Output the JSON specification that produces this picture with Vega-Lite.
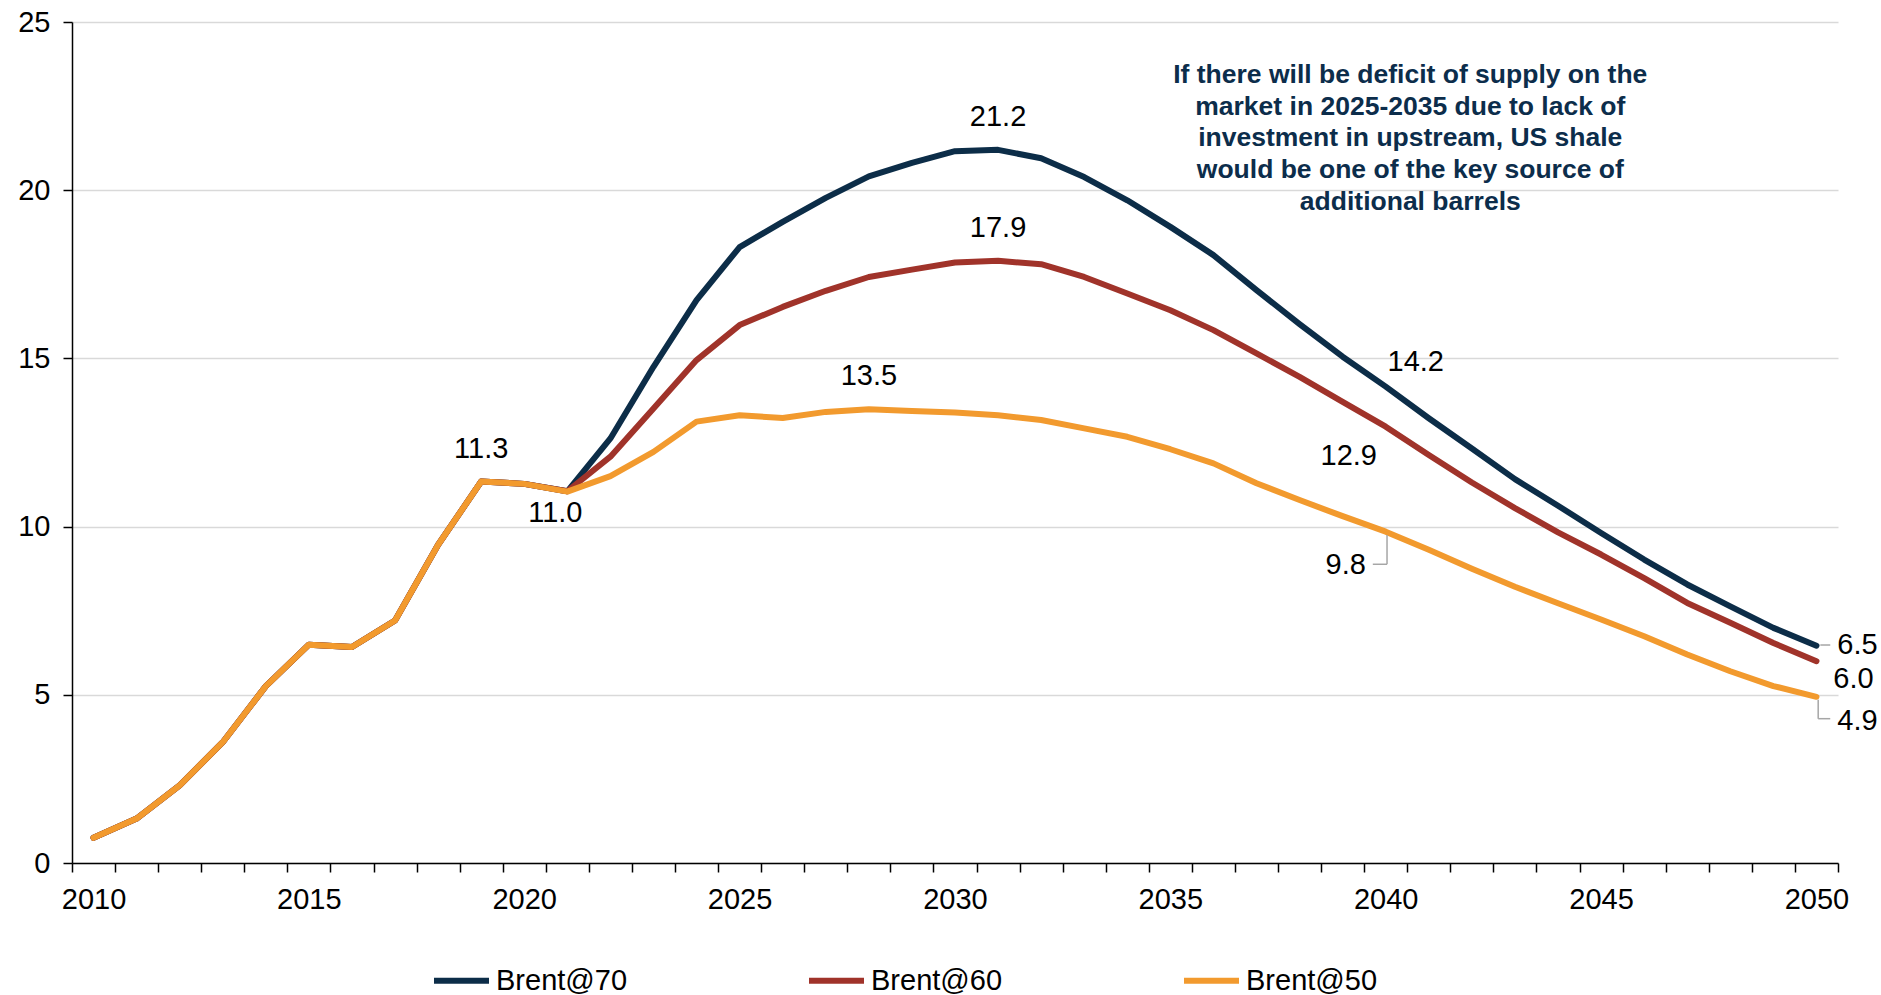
{
  "$schema": "https://vega.github.io/schema/vega-lite/v6.json",
  "width": 1766,
  "height": 841,
  "autosize": {"type": "none"},
  "padding": {"left": 72, "top": 22, "right": 43, "bottom": 132},
  "background": "white",
  "config": {
    "font": "Liberation Sans",
    "view": {"stroke": null},
    "axis": {
      "labelFont": "Liberation Sans",
      "labelFontSize": 29,
      "labelColor": "#000000",
      "domainColor": "#000000",
      "tickColor": "#000000",
      "domainWidth": 1.5,
      "tickWidth": 1.5,
      "title": null
    },
    "legend": {"labelFont": "Liberation Sans"}
  },
  "datasets": {
    "series": [
      {"year": 2010, "Brent@70": 0.75, "Brent@60": 0.75, "Brent@50": 0.75},
      {"year": 2011, "Brent@70": 1.32, "Brent@60": 1.32, "Brent@50": 1.32},
      {"year": 2012, "Brent@70": 2.31, "Brent@60": 2.31, "Brent@50": 2.31},
      {"year": 2013, "Brent@70": 3.59, "Brent@60": 3.59, "Brent@50": 3.59},
      {"year": 2014, "Brent@70": 5.26, "Brent@60": 5.26, "Brent@50": 5.26},
      {"year": 2015, "Brent@70": 6.49, "Brent@60": 6.49, "Brent@50": 6.49},
      {"year": 2016, "Brent@70": 6.42, "Brent@60": 6.42, "Brent@50": 6.42},
      {"year": 2017, "Brent@70": 7.21, "Brent@60": 7.21, "Brent@50": 7.21},
      {"year": 2018, "Brent@70": 9.46, "Brent@60": 9.46, "Brent@50": 9.46},
      {"year": 2019, "Brent@70": 11.34, "Brent@60": 11.34, "Brent@50": 11.34},
      {"year": 2020, "Brent@70": 11.27, "Brent@60": 11.27, "Brent@50": 11.27},
      {"year": 2021, "Brent@70": 11.05, "Brent@60": 11.05, "Brent@50": 11.04},
      {"year": 2022, "Brent@70": 12.62, "Brent@60": 12.08, "Brent@50": 11.5},
      {"year": 2023, "Brent@70": 14.75, "Brent@60": 13.51, "Brent@50": 12.22},
      {"year": 2024, "Brent@70": 16.73, "Brent@60": 14.95, "Brent@50": 13.12},
      {"year": 2025, "Brent@70": 18.31, "Brent@60": 15.99, "Brent@50": 13.31},
      {"year": 2026, "Brent@70": 19.06, "Brent@60": 16.53, "Brent@50": 13.23},
      {"year": 2027, "Brent@70": 19.77, "Brent@60": 17.01, "Brent@50": 13.41},
      {"year": 2028, "Brent@70": 20.41, "Brent@60": 17.42, "Brent@50": 13.49},
      {"year": 2029, "Brent@70": 20.81, "Brent@60": 17.64, "Brent@50": 13.44},
      {"year": 2030, "Brent@70": 21.16, "Brent@60": 17.85, "Brent@50": 13.39},
      {"year": 2031, "Brent@70": 21.2, "Brent@60": 17.9, "Brent@50": 13.31},
      {"year": 2032, "Brent@70": 20.95, "Brent@60": 17.8, "Brent@50": 13.17},
      {"year": 2033, "Brent@70": 20.39, "Brent@60": 17.42, "Brent@50": 12.92},
      {"year": 2034, "Brent@70": 19.7, "Brent@60": 16.93, "Brent@50": 12.67},
      {"year": 2035, "Brent@70": 18.91, "Brent@60": 16.43, "Brent@50": 12.3},
      {"year": 2036, "Brent@70": 18.07, "Brent@60": 15.84, "Brent@50": 11.88},
      {"year": 2037, "Brent@70": 17.03, "Brent@60": 15.15, "Brent@50": 11.29},
      {"year": 2038, "Brent@70": 16.02, "Brent@60": 14.45, "Brent@50": 10.79},
      {"year": 2039, "Brent@70": 15.05, "Brent@60": 13.71, "Brent@50": 10.31},
      {"year": 2040, "Brent@70": 14.16, "Brent@60": 12.97, "Brent@50": 9.85},
      {"year": 2041, "Brent@70": 13.22, "Brent@60": 12.13, "Brent@50": 9.31},
      {"year": 2042, "Brent@70": 12.32, "Brent@60": 11.31, "Brent@50": 8.75},
      {"year": 2043, "Brent@70": 11.41, "Brent@60": 10.55, "Brent@50": 8.21},
      {"year": 2044, "Brent@70": 10.62, "Brent@60": 9.83, "Brent@50": 7.72},
      {"year": 2045, "Brent@70": 9.81, "Brent@60": 9.17, "Brent@50": 7.24},
      {"year": 2046, "Brent@70": 9.02, "Brent@60": 8.47, "Brent@50": 6.74},
      {"year": 2047, "Brent@70": 8.28, "Brent@60": 7.73, "Brent@50": 6.2},
      {"year": 2048, "Brent@70": 7.63, "Brent@60": 7.14, "Brent@50": 5.7},
      {"year": 2049, "Brent@70": 6.99, "Brent@60": 6.54, "Brent@50": 5.26},
      {"year": 2050, "Brent@70": 6.46, "Brent@60": 6.0, "Brent@50": 4.94}
    ],
    "labels": [
      {"year": 2019, "value": 11.34, "label": "11.3"},
      {"year": 2021, "value": 11.04, "label": "11.0"},
      {"year": 2031, "value": 21.2, "label": "21.2"},
      {"year": 2031, "value": 17.9, "label": "17.9"},
      {"year": 2028, "value": 13.49, "label": "13.5"},
      {"year": 2040, "value": 14.16, "label": "14.2"},
      {"year": 2040, "value": 12.97, "label": "12.9"},
      {"year": 2040, "value": 9.85, "label": "9.8"},
      {"year": 2050, "value": 6.46, "label": "6.5"},
      {"year": 2050, "value": 6.0, "label": "6.0"},
      {"year": 2050, "value": 4.94, "label": "4.9"}
    ],
    "leaders": [
      {"year": 2040.03, "value": 9.75, "year2": 2040.03, "value2": 8.88},
      {"year": 2040.03, "value": 8.88, "year2": 2039.7, "value2": 8.88},
      {"year": 2050.09, "value": 6.48, "year2": 2050.32, "value2": 6.48},
      {"year": 2050.04, "value": 4.85, "year2": 2050.04, "value2": 4.29},
      {"year": 2050.04, "value": 4.29, "year2": 2050.32, "value2": 4.29}
    ],
    "notes": [
      {"year": 2040.57, "value": 23.43, "note": "If there will be deficit of supply on the\nmarket in 2025-2035 due to lack of\ninvestment in upstream, US shale\nwould be one of the key source of\nadditional barrels"}
    ]
  },
  "encoding": {
    "x": {
      "field": "year",
      "type": "quantitative",
      "scale": {"domain": [2009.5, 2050.5], "nice": false, "zero": false},
      "axis": {
        "values": [2009.5, 2010.5, 2011.5, 2012.5, 2013.5, 2014.5, 2015.5, 2016.5, 2017.5, 2018.5, 2019.5, 2020.5, 2021.5, 2022.5, 2023.5, 2024.5, 2025.5, 2026.5, 2027.5, 2028.5, 2029.5, 2030.5, 2031.5, 2032.5, 2033.5, 2034.5, 2035.5, 2036.5, 2037.5, 2038.5, 2039.5, 2040.5, 2041.5, 2042.5, 2043.5, 2044.5, 2045.5, 2046.5, 2047.5, 2048.5, 2049.5, 2050.5],
        "labelExpr": "(datum.value + 0.5) % 5 === 0 ? format(datum.value + 0.5, 'd') : ''",
        "labelOffset": 21.5,
        "labelFlush": false,
        "labelOverlap": false,
        "labelBound": false,
        "grid": false,
        "tickSize": 9,
        "labelPadding": 13
      }
    },
    "y": {
      "field": "value",
      "type": "quantitative",
      "scale": {"domain": [0, 25], "nice": false},
      "axis": {
        "values": [0, 5, 10, 15, 20, 25],
        "format": "d",
        "grid": true,
        "gridColor": "#d9d9d9",
        "gridWidth": 1.5,
        "tickSize": 9,
        "labelPadding": 13
      }
    }
  },
  "layer": [
    {
      "data": {"name": "series"},
      "transform": [
        {"fold": ["Brent@70", "Brent@60", "Brent@50"], "as": ["series", "value"]},
        {"filter": "datum.series === 'Brent@70'"}
      ],
      "mark": {"type": "line", "strokeWidth": 6, "strokeJoin": "round", "strokeCap": "round"},
      "encoding": {
        "color": {
          "field": "series",
          "type": "nominal",
          "scale": {"domain": ["Brent@70", "Brent@60", "Brent@50"], "range": ["#0c2d48", "#a0332a", "#f29a2e"]},
          "legend": {
            "orient": "none",
            "legendX": 359,
            "legendY": 928,
            "direction": "horizontal",
            "title": null,
            "symbolType": "stroke",
            "symbolSize": 3025,
            "symbolStrokeWidth": 6,
            "labelFontSize": 29,
            "labelColor": "#000000",
            "labelOffset": 4,
            "columnPadding": 169,
            "labelLimit": 300
          }
        }
      }
    },
    {
      "data": {"name": "series"},
      "transform": [
        {"fold": ["Brent@70", "Brent@60", "Brent@50"], "as": ["series", "value"]},
        {"filter": "datum.series === 'Brent@60'"}
      ],
      "mark": {"type": "line", "strokeWidth": 6, "strokeJoin": "round", "strokeCap": "round"},
      "encoding": {
        "color": {"field": "series", "type": "nominal"}
      }
    },
    {
      "data": {"name": "series"},
      "transform": [
        {"fold": ["Brent@70", "Brent@60", "Brent@50"], "as": ["series", "value"]},
        {"filter": "datum.series === 'Brent@50'"}
      ],
      "mark": {"type": "line", "strokeWidth": 6, "strokeJoin": "round", "strokeCap": "round"},
      "encoding": {
        "color": {"field": "series", "type": "nominal"}
      }
    },
    {
      "data": {"name": "leaders"},
      "mark": {"type": "rule", "color": "#a6a6a6", "strokeWidth": 1.5},
      "encoding": {
        "x2": {"field": "year2"},
        "y2": {"field": "value2"}
      }
    },
    {
      "data": {"name": "labels"},
      "transform": [{"filter": {"field": "label", "oneOf": ["11.3", "21.2", "17.9", "13.5"]}}],
      "mark": {"type": "text", "fontSize": 29, "color": "#000000", "align": "center", "baseline": "middle", "dy": -33},
      "encoding": {"text": {"field": "label"}}
    },
    {
      "data": {"name": "labels"},
      "transform": [{"filter": {"field": "label", "equal": "11.0"}}],
      "mark": {"type": "text", "fontSize": 29, "color": "#000000", "align": "center", "baseline": "middle", "dx": -12, "dy": 21},
      "encoding": {"text": {"field": "label"}}
    },
    {
      "data": {"name": "labels"},
      "transform": [{"filter": {"field": "label", "equal": "14.2"}}],
      "mark": {"type": "text", "fontSize": 29, "color": "#000000", "align": "center", "baseline": "middle", "dx": 30, "dy": -25},
      "encoding": {"text": {"field": "label"}}
    },
    {
      "data": {"name": "labels"},
      "transform": [{"filter": {"field": "label", "equal": "12.9"}}],
      "mark": {"type": "text", "fontSize": 29, "color": "#000000", "align": "center", "baseline": "middle", "dx": -37, "dy": 29},
      "encoding": {"text": {"field": "label"}}
    },
    {
      "data": {"name": "labels"},
      "transform": [{"filter": {"field": "label", "equal": "9.8"}}],
      "mark": {"type": "text", "fontSize": 29, "color": "#000000", "align": "center", "baseline": "middle", "dx": -40, "dy": 33},
      "encoding": {"text": {"field": "label"}}
    },
    {
      "data": {"name": "labels"},
      "transform": [{"filter": {"field": "label", "equal": "6.5"}}],
      "mark": {"type": "text", "fontSize": 29, "color": "#000000", "align": "center", "baseline": "middle", "dx": 41, "dy": -1},
      "encoding": {"text": {"field": "label"}}
    },
    {
      "data": {"name": "labels"},
      "transform": [{"filter": {"field": "label", "equal": "6.0"}}],
      "mark": {"type": "text", "fontSize": 29, "color": "#000000", "align": "center", "baseline": "middle", "dx": 37, "dy": 18},
      "encoding": {"text": {"field": "label"}}
    },
    {
      "data": {"name": "labels"},
      "transform": [{"filter": {"field": "label", "equal": "4.9"}}],
      "mark": {"type": "text", "fontSize": 29, "color": "#000000", "align": "center", "baseline": "middle", "dx": 41, "dy": 24},
      "encoding": {"text": {"field": "label"}}
    },
    {
      "data": {"name": "notes"},
      "mark": {
        "type": "text",
        "lineBreak": "\n",
        "fontSize": 26.5,
        "fontWeight": "bold",
        "color": "#0c2d4b",
        "align": "center",
        "baseline": "middle",
        "lineHeight": 31.7
      },
      "encoding": {
        "text": {"field": "note", "type": "nominal"}
      }
    }
  ]
}
